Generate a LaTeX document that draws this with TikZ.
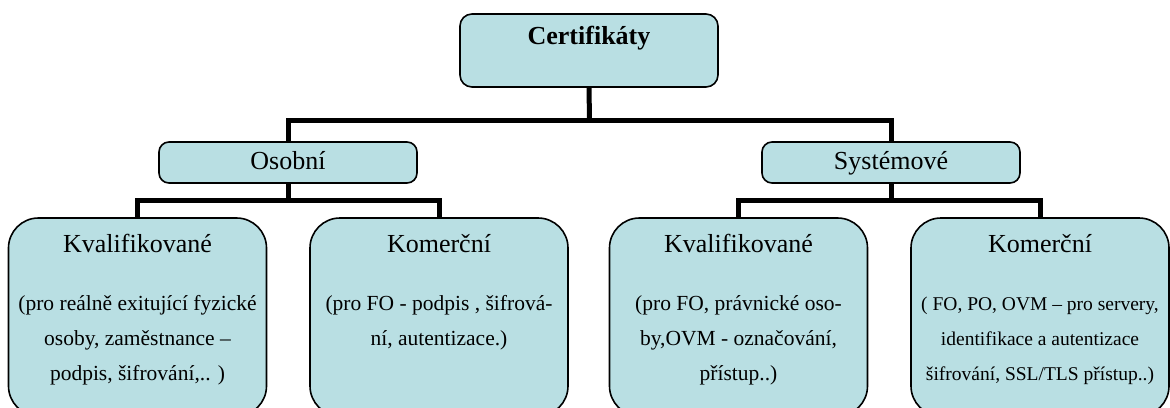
\documentclass[tikz,border=0pt]{standalone}
\usepackage{fontspec}
\setmainfont{Liberation Serif}
\definecolor{boxfill}{RGB}{185,223,227}
\tikzset{
  box/.style={draw=black, line width=1.6pt, fill=boxfill, inner sep=0pt},
  rootbox/.style={box, rounded corners=12pt, minimum width=258pt, minimum height=73pt,
    font=\fontsize{26}{30}\selectfont\bfseries, text height=18pt, text depth=31pt},
  groupbox/.style={box, rounded corners=10pt, minimum width=258pt, minimum height=41pt,
    font=\fontsize{26}{30}\selectfont, text height=18pt, text depth=5pt},
  leafbox/.style={box, rounded corners=30pt, minimum width=258pt, minimum height=198pt},
  leafhead/.style={anchor=base, inner sep=0pt, font=\fontsize{26}{30}\selectfont},
  leafbody/.style={anchor=base, inner sep=0pt, font=\fontsize{21.5}{35}\selectfont},
  leafsmall/.style={anchor=base, inner sep=0pt, font=\fontsize{19.5}{35}\selectfont},
  link/.style={line width=5pt}
}
\newcommand{\lines}[1]{\begin{tabular}[t]{@{}c@{}}#1\end{tabular}}
\begin{document}
\begin{tikzpicture}[x=1pt,y=-1pt]
\useasboundingbox (0,0) rectangle (1170,407);
\clip (0,0) rectangle (1170,407);
\fill[white] (0,0) rectangle (1170,407);

% boxes
\node[rootbox] (cert) at (589,50.5) {Certifikáty};
\node[groupbox] (oso) at (288,162.5) {Osobní};
\node[groupbox] (sys) at (891,162.5) {Systémové};
\node[leafbox] (k1) at (137.5,317) {};
\node[leafbox] (c1) at (439,317) {};
\node[leafbox] (k2) at (738.5,317) {};
\node[leafbox] (c2) at (1040,317) {};

% connectors
\coordinate (j0) at (589.5,120);
\coordinate (j1) at (288,200);
\coordinate (j2) at (891,200);
\draw[link] (cert.south) -- (j0);
\draw[link] (oso.north) |- (j0) -| (sys.north);
\draw[link] (oso.south) -- (j1);
\draw[link] (k1.north) |- (j1) -| (c1.north);
\draw[link] (sys.south) -- (j2);
\draw[link] (k2.north) |- (j2) -| (c2.north);

% leaf texts
\node[leafhead] (k1h) at ([yshift=-35pt]k1.north) {Kvalifikované};
\node[leafbody] (k1b) at ([yshift=-93pt]k1.north)
  {\lines{(pro reálně exitující fyzické\\osoby, zaměstnance –\\podpis, šifrování,.. )}};
\node[leafhead] (c1h) at ([yshift=-35pt]c1.north) {Komerční};
\node[leafbody] (c1b) at ([yshift=-93pt]c1.north)
  {\lines{(pro FO - podpis , šifrová-\\ní, autentizace.)}};
\node[leafhead] (k2h) at ([yshift=-35pt]k2.north) {Kvalifikované};
\node[leafbody] (k2b) at ([yshift=-93pt]k2.north)
  {\lines{(pro FO, právnické oso-\\by,OVM - označování,\\přístup..)}};
\node[leafhead] (c2h) at ([yshift=-35pt]c2.north) {Komerční};
\node[leafsmall] (c2b) at ([yshift=-93pt]c2.north)
  {\lines{( FO, PO, OVM – pro servery,\\identifikace a autentizace\\šifrování, SSL/TLS přístup..)}};
\end{tikzpicture}
\end{document}
